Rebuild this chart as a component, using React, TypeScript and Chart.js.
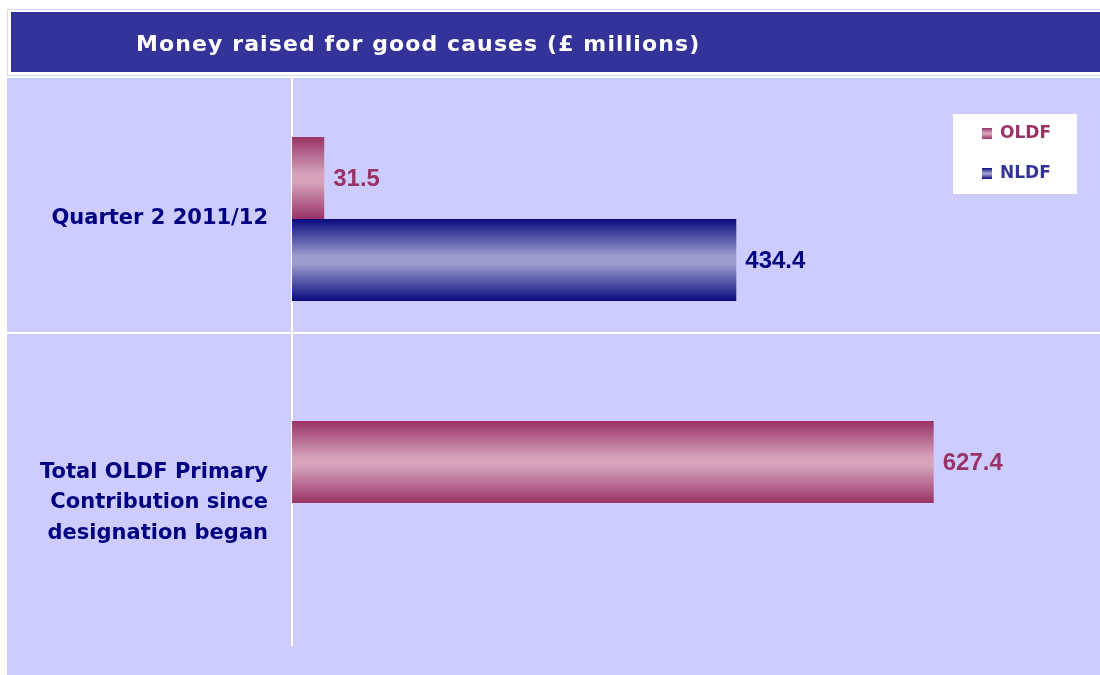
import React, { useEffect, useRef } from "react";
import { Chart, registerables } from "chart.js";

Chart.register(...registerables);

// ---- Data ----
const TITLE = "Money raised for good causes (£ millions)";
const CATEGORIES: (string | string[])[] = [
  "Quarter 2 2011/12",
  ["Total OLDF Primary", "Contribution since", "designation began"],
];
const SERIES_NAMES = ["OLDF", "NLDF"];
const OLDF_VALUES: (number | null)[] = [31.5, 627.4];
const NLDF_VALUES: (number | null)[] = [434.4, null];
const X_MIN = 0;
const X_MAX = 790;

// ---- Styles ----
const NAVY = "#333399";
const LAVENDER = "#CCCCFF";
const CAT_LABEL_COLOR = "#000080";
const SERIES_EDGE = ["#993366", "#0A0A80"];
const SERIES_MID = ["#D6A3BB", "#9C9CCE"];
const VALUE_COLORS = ["#993366", "#000080"];
const LEGEND_COLORS = ["#993366", "#333399"];
const CAT_PCT = 0.577;
const BAR_PCT = 1;

function makeGradient(c: CanvasRenderingContext2D, top: number, bottom: number, edge: string, mid: string) {
  const g = c.createLinearGradient(0, top, 0, bottom);
  g.addColorStop(0, edge);
  g.addColorStop(0.45, mid);
  g.addColorStop(0.55, mid);
  g.addColorStop(1, edge);
  return g;
}

function barGradient(ctx: any) {
  const di = ctx.datasetIndex;
  const edge = SERIES_EDGE[di];
  const mid = SERIES_MID[di];
  const chart = ctx.chart;
  const y = chart.scales && chart.scales.y;
  if (!y || ctx.type !== "data" || y.bottom === undefined) return edge;
  const n = chart.data.datasets.length;
  const catW = (y.bottom - y.top) / chart.data.labels.length;
  const groupW = catW * CAT_PCT;
  const slot = groupW / n;
  const center = y.getPixelForValue(ctx.dataIndex);
  const top = center - groupW / 2 + di * slot + (slot * (1 - BAR_PCT)) / 2;
  const bottom = top + slot * BAR_PCT;
  return makeGradient(chart.ctx, top, bottom, edge, mid);
}

const backgroundPlugin = {
  id: "bgPanel",
  beforeDraw(chart: any) {
    const { ctx, width, height } = chart;
    ctx.save();
    ctx.fillStyle = "#FFFFFF";
    ctx.fillRect(0, 0, width, height);
    // lavender plot panel
    ctx.fillStyle = LAVENDER;
    ctx.fillRect(7, 78, width - 7, height - 78);
    // title frame
    ctx.strokeStyle = "#D8D8F4";
    ctx.lineWidth = 1;
    ctx.strokeRect(7.5, 9.5, width, 66);
    ctx.fillStyle = NAVY;
    ctx.fillRect(11, 12, width - 11, 60);
    ctx.fillStyle = "#FFFFFF";
    ctx.font = 'bold 22px "DejaVu Sans", Verdana, sans-serif';
    (ctx as any).letterSpacing = "1.1px";
    ctx.textAlign = "left";
    ctx.textBaseline = "middle";
    ctx.fillText(TITLE, 136, 45);
    ctx.restore();
  },
  beforeDatasetsDraw(chart: any) {
    const { ctx, width } = chart;
    const y = chart.scales.y;
    const py = Math.round(y.getPixelForValue(0.4));
    ctx.save();
    ctx.strokeStyle = "#FFFFFF";
    ctx.lineWidth = 2;
    ctx.beginPath();
    ctx.moveTo(7, py);
    ctx.lineTo(width, py);
    ctx.stroke();
    ctx.restore();
  },
};

const valueLabelPlugin = {
  id: "valueLabels",
  afterDatasetsDraw(chart: any) {
    const ctx = chart.ctx;
    chart.data.datasets.forEach((ds: any, di: number) => {
      const meta = chart.getDatasetMeta(di);
      meta.data.forEach((bar: any, i: number) => {
        const v = ds.data[i];
        if (v === null || v === undefined) return;
        ctx.save();
        ctx.font = 'bold 24px "Liberation Sans", Arial, sans-serif';
        ctx.fillStyle = VALUE_COLORS[di];
        ctx.textAlign = "left";
        ctx.textBaseline = "middle";
        ctx.fillText(Number(v).toFixed(1), bar.x + 9, bar.y + 1);
        ctx.restore();
      });
    });
  },
};

const legendPlugin = {
  id: "boxLegend",
  afterDraw(chart: any) {
    const { ctx, chartArea } = chart;
    const bx = chartArea.right - 147;
    const by = chartArea.top + 37;
    ctx.save();
    ctx.fillStyle = "#FFFFFF";
    ctx.fillRect(bx, by, 124, 80);
    chart.data.datasets.forEach((ds: any, di: number) => {
      const cy = by + 19 + di * 40;
      const sx = bx + 29;
      const sy = cy - 5;
      ctx.fillStyle = makeGradient(ctx, sy, sy + 11, SERIES_EDGE[di], SERIES_MID[di]);
      ctx.fillRect(sx, sy, 10, 11);
      ctx.fillStyle = LEGEND_COLORS[di];
      ctx.font = 'bold 17px "DejaVu Sans", Verdana, sans-serif';
      ctx.textAlign = "left";
      ctx.textBaseline = "middle";
      ctx.fillText(ds.label, bx + 47, cy + 1);
    });
    ctx.restore();
  },
};

export default function App() {
  const ref = useRef<HTMLCanvasElement | null>(null);

  useEffect(() => {
    if (!ref.current) return;
    const chart = new Chart(ref.current, {
      type: "bar",
      data: {
        labels: CATEGORIES as any,
        datasets: [
          {
            label: SERIES_NAMES[0],
            data: OLDF_VALUES,
            backgroundColor: barGradient as any,
            borderWidth: 0,
            categoryPercentage: CAT_PCT,
            barPercentage: BAR_PCT,
          },
          {
            label: SERIES_NAMES[1],
            data: NLDF_VALUES,
            backgroundColor: barGradient as any,
            borderWidth: 0,
            categoryPercentage: CAT_PCT,
            barPercentage: BAR_PCT,
          },
        ],
      },
      options: {
        indexAxis: "y",
        responsive: false,
        animation: false,
        layout: { padding: { top: 77, bottom: 30, left: 7, right: 0 } },
        plugins: {
          legend: { display: false },
          tooltip: { enabled: false },
          title: { display: false },
        },
        scales: {
          x: {
            display: false,
            min: X_MIN,
            max: X_MAX,
            grid: { display: false },
          },
          y: {
            grid: { display: false, drawTicks: false },
            border: { display: true, color: "#FFFFFF", width: 2 },
            ticks: {
              color: CAT_LABEL_COLOR,
              padding: 24,
              crossAlign: "near",
              font: { family: '"DejaVu Sans", Verdana, sans-serif', weight: "bold", size: 21, lineHeight: 1.45 },
            },
            afterFit: (s: any) => {
              s.width = 285;
              s.paddingTop = 0;
              s.paddingBottom = 0;
            },
          },
        },
      } as any,
      plugins: [backgroundPlugin, valueLabelPlugin, legendPlugin],
    });
    return () => chart.destroy();
  }, []);

  return (
    <div style={{ position: "absolute", left: 0, top: 0, width: 1100, height: 675 }}>
      <canvas ref={ref} width={1100} height={675} style={{ display: "block" }} />
    </div>
  );
}
